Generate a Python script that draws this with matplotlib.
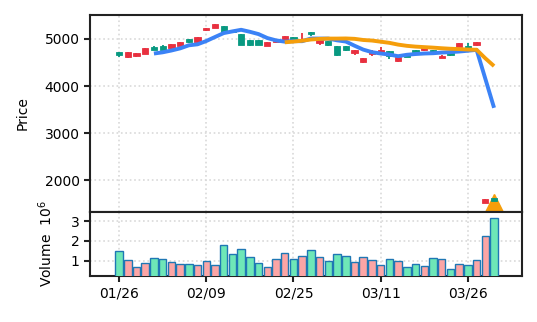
import matplotlib
matplotlib.use("Agg")
import matplotlib.pyplot as plt
import numpy as np
import pandas as pd

# daily OHLC (44 sessions) and volume in millions
opens = [4667, 4716, 4695, 4801, 4773, 4775, 4893, 4936, 4943, 5042,
         5230, 5319, 5156, 5150, 4875, 4862, 4875, 4940, 4950, 5060,
         4955, 5000, 5100, 4975, 4865, 4650, 4760, 4760, 4590, 4720,
         4770, 4640, 4615, 4620, 4720, 4810, 4730, 4645, 4650, 4910,
         4800, 4930, 1590, 1560]
highs = [4725, 4720, 4700, 4805, 4844, 4866, 4898, 4940, 5003, 5046,
         5235, 5322, 5280, 5185, 5105, 4985, 4983, 4944, 4955, 5064,
         5038, 5120, 5150, 4990, 4963, 4853, 4853, 4765, 4594, 4775,
         4830, 4743, 4619, 4663, 4773, 4814, 4773, 4649, 4713, 4914,
         4905, 4934, 1600, 1625]
lows = [4624, 4605, 4625, 4670, 4768, 4760, 4796, 4855, 4915, 4925,
        5165, 5224, 5150, 5145, 4870, 4858, 4870, 4855, 4925, 4960,
        4950, 4960, 5060, 4865, 4860, 4645, 4755, 4660, 4480, 4645,
        4700, 4570, 4520, 4615, 4715, 4755, 4725, 4590, 4645, 4825,
        4795, 4860, 1515, 1555]
closes = [4716, 4610, 4631, 4674, 4822, 4845, 4801, 4858, 5000, 4929,
          5195, 5227, 5276, 5180, 5100, 4982, 4980, 4860, 4930, 4965,
          5035, 4975, 5145, 4925, 4960, 4850, 4850, 4700, 4510, 4690,
          4705, 4740, 4525, 4660, 4770, 4760, 4770, 4595, 4710, 4830,
          4845, 4865, 1520, 1620]
volumes = [1.48, 1.02, 0.68, 0.87, 1.14, 1.07, 0.92, 0.85, 0.85, 0.77,
           0.97, 0.77, 1.78, 1.34, 1.59, 1.19, 0.87, 0.68, 1.09, 1.37,
           1.09, 1.25, 1.54, 1.17, 0.97, 1.32, 1.22, 0.92, 1.17, 1.05,
           0.80, 1.07, 1.00, 0.67, 0.82, 0.72, 1.12, 1.07, 0.56, 0.82,
           0.77, 1.02, 2.24, 3.15]
signal_idx = [43]
signal_price = [1510]
tick_pos = [0, 10, 20, 30, 40]
tick_labels = ["01/26", "02/09", "02/25", "03/11", "03/26"]

UP, DOWN = "#089981", "#e8303f"
VUP, VDOWN = "#6ee7b7", "#fca5a5"

df = pd.DataFrame({"open": opens, "high": highs, "low": lows,
                   "close": closes, "volume": volumes})
x = np.arange(len(df))
up = df["close"] >= df["open"]
ma5 = df["close"].rolling(5).mean()
ma20 = df["close"].rolling(20).mean()

fig = plt.figure(figsize=(5.37, 3.22), dpi=100)
ax = fig.add_axes([0.1676, 0.3416, 0.8044, 0.6118])
axv = fig.add_axes([0.1676, 0.1429, 0.8044, 0.1987], sharex=ax)

# candles
col = np.where(up, UP, DOWN)
ax.vlines(x, df["low"], df["high"], color=col, linewidth=1.3, zorder=3)
body_lo = np.minimum(df["open"], df["close"])
body_h = np.maximum(np.abs(df["close"] - df["open"]), 8)
ax.bar(x, body_h, bottom=body_lo, width=0.72, color=col, edgecolor=col,
       linewidth=0.6, zorder=3)

ax.plot(x, ma5, color="#3b82f6", linewidth=2.8, zorder=4, solid_capstyle="butt")
ax.plot(x, ma20, color="#f59e0b", linewidth=2.8, zorder=5, solid_capstyle="butt")
ax.plot(signal_idx, signal_price, marker="^", markersize=13.5, color="#f59e0b",
        linestyle="none", zorder=2, clip_on=False)

ax.set_ylim(1320, 5510)
ax.set_yticks([2000, 3000, 4000, 5000])
ax.set_ylabel("Price", fontsize=10, labelpad=11)
ax.grid(True, linestyle=":", color="#d9d9d9", linewidth=1.2)
ax.tick_params(axis="x", which="both", length=0, labelbottom=False)

# volume panel
vcol = np.where(up, VUP, VDOWN)
axv.bar(x, df["volume"], width=0.86, color=vcol, edgecolor="#1f77b4",
        linewidth=1.0, zorder=3)
axv.set_ylim(0.22, 3.47)
axv.set_yticks([1, 2, 3])
axv.set_ylabel("Volume  $10^{6}$", fontsize=10, labelpad=11)
axv.grid(True, linestyle=":", color="#d9d9d9", linewidth=1.2)

axv.set_xlim(-3.33, 46.2)
axv.set_xticks(tick_pos)
axv.set_xticklabels(tick_labels)

for a in (ax, axv):
    a.set_axisbelow(True)
    a.tick_params(labelsize=10, width=1.5, length=4, color="#222222")
    for s in a.spines.values():
        s.set_linewidth(1.5)
        s.set_color("#222222")

fig.savefig("out.png", dpi=100)
